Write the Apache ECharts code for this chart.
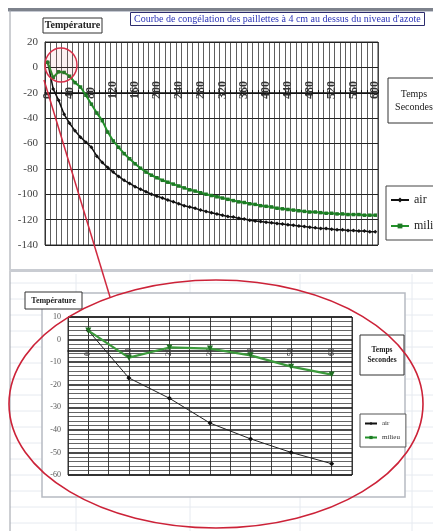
<!DOCTYPE html>
<html>
<head>
<meta charset="utf-8">
<script src="https://cdn.jsdelivr.net/npm/echarts@6/dist/echarts.min.js"></script>
<style>
  html, body { margin: 0; padding: 0; background: #fff; }
  #chart { width: 433px; height: 531px; }
</style>
</head>
<body>
<div id="chart"></div>
<script>
// Time in seconds, one reading every 10 s
const seconds = ['0','10','20','30','40','50','60','70','80','90','100','110','120','130','140','150','160','170','180','190','200','210','220','230','240','250','260','270','280','290','300','310','320','330','340','350','360','370','380','390','400','410','420','430','440','450','460','470','480','490','500','510','520','530','540','550','560','570','580','590','600'];

// Temperature of the air above the straws (°C)
const airTemps = [4,-17,-26,-37,-44,-50,-55,-59,-63,-70,-75,-79,-82.5,-86,-89,-91.5,-94,-96,-98,-100,-101.5,-103,-104.5,-106,-107.5,-109,-110,-111,-112.5,-113.5,-114.5,-115.5,-116.5,-117.5,-118,-119,-119.5,-120.5,-121,-121.5,-122,-122.5,-123,-123.5,-124,-124.5,-125,-125.5,-126,-126.5,-127,-127,-127.5,-128,-128,-128.5,-128.5,-129,-129,-129.5,-129.5];

// Temperature of the medium inside the straws (°C)
const milieuTemps = [4,-8,-3.5,-4,-7,-12,-15.5,-22,-29,-36,-42,-51,-58,-63,-68,-72,-76,-79.5,-82.5,-85,-87,-89,-90.5,-92,-93.5,-95,-96.5,-97.5,-98.8,-100,-101,-102,-103,-104,-105,-106,-106.5,-107.5,-108,-109,-109.5,-110,-111,-111.5,-112,-112.5,-113,-113.5,-114,-114,-114.5,-115,-115,-115.5,-115.5,-116,-116,-116,-116.5,-116.5,-116.5];

// Close-up of the first minute
const zoomSeconds = [0,10,20,30,40,50,60];

// Y tick values
const yTicksMain = [20,0,-20,-40,-60,-80,-100,-120,-140];
const yTicksZoom = [10,0,-10,-20,-30,-40,-50,-60];

const serif = 'Liberation Serif';
const chart = echarts.init(document.getElementById('chart'), null, { renderer: 'canvas' });

const zoomAir = zoomSeconds.map((s, i) => [s, airTemps[i]]);
const zoomMilieu = zoomSeconds.map((s, i) => [s, milieuTemps[i]]);

// faint worksheet cells behind the lower chart
const sheetLines = [];
for (let y = 283; y < 531; y += 16) {
  sheetLines.push({ type: 'line', z: -10, shape: { x1: 10, y1: y, x2: 433, y2: y }, style: { stroke: '#e6eaf0', lineWidth: 1 } });
}
[76, 190, 300, 412].forEach(x => {
  sheetLines.push({ type: 'line', z: -10, shape: { x1: x, y1: 274, x2: x, y2: 531 }, style: { stroke: '#e6eaf0', lineWidth: 1 } });
});

function box(x, y, w, h, lines, size, opts) {
  opts = opts || {};
  return {
    type: 'group', z: 50,
    children: [
      { type: 'rect', shape: { x: x, y: y, width: w, height: h },
        style: { fill: '#fff', stroke: opts.stroke || '#333', lineWidth: 1 } },
      { type: 'text', x: x + w / 2, y: y + h / 2,
        style: { text: lines, fill: opts.color || '#222', font: (opts.weight || 'normal') + ' ' + size + 'px "' + serif + '"',
                 textAlign: 'center', textVerticalAlign: 'middle', lineHeight: size + 3 } }
    ]
  };
}

const option = {
  animation: false,
  backgroundColor: '#fff',
  title: {
    text: "Courbe de congélation des paillettes à 4 cm au dessus du niveau d'azote",
    left: 130, top: 12,
    padding: [2, 4],
    borderColor: '#2c2c6e', borderWidth: 1, backgroundColor: '#fff',
    textStyle: { fontFamily: serif, fontSize: 10, fontWeight: 'normal', color: '#2b34b8' }
  },
  legend: [
    {
      data: ['air', 'milieu'],
      orient: 'vertical', left: 386, top: 186,
      itemWidth: 18, itemHeight: 6, itemGap: 14,
      padding: [8, 8, 8, 4],
      borderColor: '#444', borderWidth: 1, backgroundColor: '#fff',
      textStyle: { fontFamily: serif, fontSize: 12, color: '#222' }
    },
    {
      data: ['air', 'milieu'],
      orient: 'vertical', left: 360, top: 414,
      itemWidth: 12, itemHeight: 4, itemGap: 7,
      padding: [6, 6, 6, 4],
      borderColor: '#555', borderWidth: 1, backgroundColor: '#fff',
      textStyle: { fontFamily: serif, fontSize: 7, color: '#333' }
    }
  ],
  grid: [
    { left: 45, right: 55, top: 42, bottom: 286, show: true, borderColor: '#333', borderWidth: 1, backgroundColor: '#fff' },
    { left: 68, right: 81, top: 317, bottom: 56, show: true, borderColor: '#333', borderWidth: 1, backgroundColor: '#fff' }
  ],
  xAxis: [
    {
      gridIndex: 0, type: 'category', data: seconds, boundaryGap: true,
      position: 'top', offset: -51,
      axisLine: { lineStyle: { color: '#111', width: 1.5 } },
      axisTick: { show: true, interval: 0, length: 3, inside: false, lineStyle: { color: '#111' } },
      axisLabel: {
        interval: 3, rotate: 90, margin: -6,
        fontFamily: serif, fontSize: 12, fontWeight: 'bold', color: '#333'
      },
      splitLine: { show: true, interval: 0, lineStyle: { color: '#2a2a2a', width: 1, opacity: 0.75 } }
    },
    {
      gridIndex: 1, type: 'value', min: -5, max: 65, interval: 5,
      position: 'top', offset: -34,
      axisLine: { lineStyle: { color: '#111', width: 1.5 } },
      axisTick: { show: false },
      axisLabel: {
        rotate: 90, margin: -5,
        fontFamily: serif, fontSize: 8, fontWeight: 'bold', color: '#444',
        formatter: v => (v >= 0 && v <= 60 && v % 10 === 0) ? String(v) : ''
      },
      splitLine: { show: true, lineStyle: { color: '#222', width: 1, opacity: 0.85 } }
    }
  ],
  yAxis: [
    {
      gridIndex: 0, type: 'value', min: yTicksMain[yTicksMain.length - 1], max: yTicksMain[0], interval: 20,
      axisLine: { show: true, lineStyle: { color: '#333' } },
      axisTick: { show: false },
      axisLabel: { margin: 7, fontFamily: serif, fontSize: 11, color: '#444' },
      splitLine: { lineStyle: { color: '#222', width: 1 } }
    },
    {
      gridIndex: 1, type: 'value', min: yTicksZoom[yTicksZoom.length - 1], max: yTicksZoom[0], interval: 10,
      axisLine: { show: true, lineStyle: { color: '#333' } },
      axisTick: { show: false },
      minorTick: { show: false, splitNumber: 5 },
      axisLabel: { margin: 7, fontFamily: serif, fontSize: 8, color: '#555' },
      splitLine: { lineStyle: { color: '#111', width: 1.5 } },
      minorSplitLine: { show: true, lineStyle: { color: '#333', width: 1, opacity: 0.75 } }
    }
  ],
  series: [
    {
      name: 'air', type: 'line', xAxisIndex: 0, yAxisIndex: 0, data: airTemps,
      symbol: 'diamond', symbolSize: 4, showSymbol: true, showAllSymbol: true,
      lineStyle: { color: '#111', width: 1.5 }, itemStyle: { color: '#111' }, z: 3
    },
    {
      name: 'milieu', type: 'line', xAxisIndex: 0, yAxisIndex: 0, data: milieuTemps,
      symbol: 'rect', symbolSize: 3.5, showSymbol: true, showAllSymbol: true,
      lineStyle: { color: '#23912a', width: 2 }, itemStyle: { color: '#1d7a24' }, z: 4
    },
    {
      name: 'air', type: 'line', xAxisIndex: 1, yAxisIndex: 1, data: zoomAir,
      symbol: 'diamond', symbolSize: 5,
      lineStyle: { color: '#222', width: 1 }, itemStyle: { color: '#111' }, z: 3
    },
    {
      name: 'milieu', type: 'line', xAxisIndex: 1, yAxisIndex: 1, data: zoomMilieu,
      symbol: 'triangle', symbolRotate: 180, symbolSize: 6,
      lineStyle: { color: '#3c9a3c', width: 2.2 }, itemStyle: { color: '#1f6e22' }, z: 4
    }
  ],
  graphic: [
    ...sheetLines,
    // window frame of the upper chart
    { type: 'rect', z: -5, shape: { x: 8, y: 8, width: 430, height: 3 }, style: { fill: '#7d828c' } },
    { type: 'rect', z: -5, shape: { x: 8, y: 11, width: 430, height: 1 }, style: { fill: '#c5c9d2' } },
    { type: 'line', z: -5, shape: { x1: 10, y1: 10, x2: 10, y2: 531 }, style: { stroke: '#9a9ea6', lineWidth: 1 } },
    { type: 'rect', z: -5, shape: { x: 10, y: 269, width: 430, height: 3 }, style: { fill: '#c9ccd2' } },
    // chart area of the close-up
    { type: 'rect', z: -4, shape: { x: 42, y: 293, width: 363, height: 204 }, style: { fill: '#fff', stroke: '#b6bac2', lineWidth: 1.5 } },
    // text boxes
    box(43, 18, 59, 15, 'Température', 10, { weight: 'bold' }),
    box(388, 78, 52, 45, 'Temps\nSecondes', 10),
    box(25, 292, 57, 17, 'Température', 8, { weight: 'bold' }),
    box(360, 335, 44, 40, 'Temps\nSecondes', 7.5, { weight: 'bold' }),
    // red call-out: small circle, connecting line and large ellipse
    { type: 'ellipse', z: 100, shape: { cx: 61, cy: 65, rx: 16, ry: 17 }, style: { fill: 'rgba(230,60,80,0.08)', stroke: '#d8304a', lineWidth: 1.5 } },
    { type: 'line', z: 100, shape: { x1: 44, y1: 80, x2: 110, y2: 297 }, style: { stroke: '#d02a40', lineWidth: 1.5 } },
    { type: 'ellipse', z: 100, shape: { cx: 216, cy: 404, rx: 207, ry: 124 }, style: { fill: 'none', stroke: '#cc2238', lineWidth: 1.6 } }
  ]
};

chart.setOption(option);
</script>
</body>
</html>
